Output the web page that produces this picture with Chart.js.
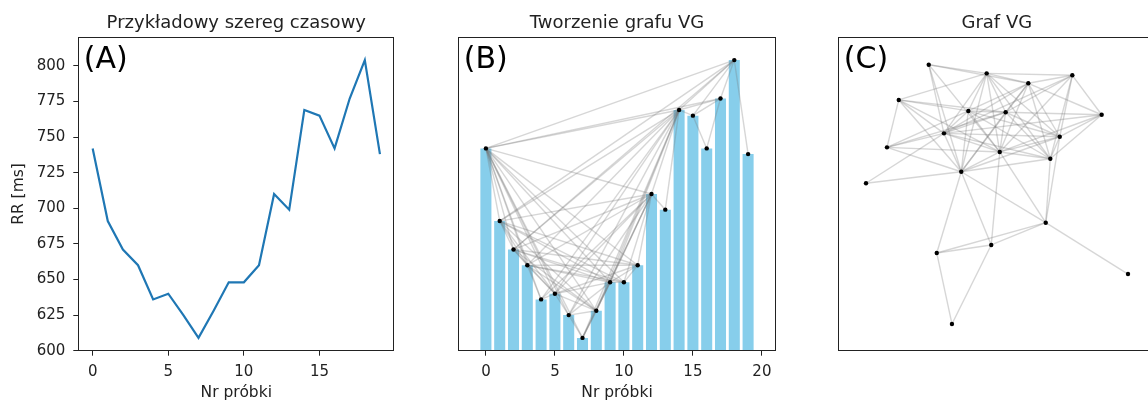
<!DOCTYPE html>
<html>
<head>
<meta charset="utf-8">
<title>Graf VG</title>
<script src="https://cdn.jsdelivr.net/npm/chart.js@4.4.1/dist/chart.umd.min.js"></script>
<style>
  html, body { margin: 0; padding: 0; background: #fff; overflow: hidden; }
  #wrap { position: relative; width: 1148px; height: 403px; overflow: hidden; }
  canvas { position: absolute; top: 0; }
  #chartA { left: 0; }
  #chartB { left: 420px; }
  #chartC { left: 820px; }
</style>
</head>
<body>
<div id="wrap">
  <canvas id="chartA" width="400" height="403"></canvas>
  <canvas id="chartB" width="380" height="403"></canvas>
  <canvas id="chartC" width="360" height="403"></canvas>
</div>
<script>
// RR intervals [ms], one per sample
const sampleNo = [0, 1, 2, 3, 4, 5, 6, 7, 8, 9, 10, 11, 12, 13, 14, 15, 16, 17, 18, 19];
const rrValues = [742, 691, 671, 660, 636, 640, 625, 609, 628, 648, 648, 660, 710, 699, 769, 765, 742, 777, 804, 738];

const rrTicks = [600, 625, 650, 675, 700, 725, 750, 775, 800];
const sampleTicksA = [0, 5, 10, 15];
const sampleTicksB = [0, 5, 10, 15, 20];

// spring-layout positions of the graph nodes (node i = sample i)
const layoutX = [0.021, 0.407, 0.479, 0.239, -0.521, -0.079, -0.750, -0.840, -0.219, 0.066,
                 0.799, 0.575, -0.405, -1.000, -0.273, -0.460, -0.344, -0.044, 0.372, 1.000];
const layoutY = [0.321, 0.269, 0.437, 0.845, 0.987, 0.921, 0.718, 0.356, 0.634, 0.624,
                 0.605, 0.906, 0.463, 0.082, 0.170, -0.450, -0.992, -0.389, -0.219, -0.611];

const TEXT = '#222';
const EDGE = 'rgba(120, 120, 120, 0.3)';
const FONT = "'DejaVu Sans', sans-serif";

Chart.defaults.font.family = FONT;
Chart.defaults.font.size = 15;
Chart.defaults.color = TEXT;

// natural visibility graph: a and b are linked if every sample between them
// lies strictly below the straight line joining them
function visibilityEdges(vals) {
  const edges = [];
  for (let a = 0; a < vals.length; a++) {
    for (let b = a + 1; b < vals.length; b++) {
      let visible = true;
      for (let c = a + 1; c < b; c++) {
        const h = vals[b] + (vals[a] - vals[b]) * (b - c) / (b - a);
        if (vals[c] >= h) { visible = false; break; }
      }
      if (visible) edges.push([a, b]);
    }
  }
  return edges;
}

const edges = visibilityEdges(rrValues);

// title above the axes, panel letter in the corner, and the axes frame
const panelText = {
  id: 'panelText',
  afterDraw(chart, args, opts) {
    const { ctx, chartArea: a } = chart;
    ctx.save();
    ctx.strokeStyle = TEXT;
    ctx.lineWidth = 1;
    const l = Math.round(a.left) + 0.5, t = Math.round(a.top) + 0.5;
    const r = Math.round(a.right) - 0.5, b = Math.round(a.bottom) - 0.5;
    ctx.strokeRect(l, t, r - l, b - t);
    ctx.fillStyle = TEXT;
    ctx.font = '18px ' + FONT;
    ctx.textAlign = 'center';
    ctx.textBaseline = 'alphabetic';
    ctx.fillText(opts.title, (a.left + a.right) / 2, 28);
    ctx.fillStyle = '#000';
    ctx.font = '30px ' + FONT;
    ctx.textAlign = 'left';
    ctx.fillText(opts.letter, a.left + 5.5, a.top + 30.4);
    ctx.restore();
  }
};

const tickGrid = { drawOnChartArea: false, drawTicks: true, tickLength: 5, color: TEXT };
const xTitle = { display: true, text: 'Nr próbki', font: { size: 15.5 }, padding: { top: 0, bottom: 0.8 } };

function fixedTicks(values) {
  return scale => { scale.ticks = values.map(v => ({ value: v })); };
}

function edgeDatasets(xs, ys) {
  return edges.map(([a, b]) => ({
    type: 'line',
    data: [{ x: xs[a], y: ys[a] }, { x: xs[b], y: ys[b] }],
    borderColor: EDGE,
    borderWidth: 1.4,
    pointRadius: 0,
    fill: false,
    order: 2
  }));
}

const baseOptions = {
  responsive: false,
  animation: false,
  events: [],
  plugins: { legend: { display: false }, tooltip: { enabled: false } }
};

// (A) time series
new Chart(document.getElementById('chartA'), {
  type: 'line',
  data: {
    datasets: [{
      data: sampleNo.map((x, i) => ({ x: x, y: rrValues[i] })),
      borderColor: '#1f77b4',
      borderWidth: 2.2,
      pointRadius: 0,
      tension: 0
    }]
  },
  options: {
    ...baseOptions,
    layout: { padding: { top: 37.3, right: 5.7, bottom: 0, left: 0 } },
    plugins: { ...baseOptions.plugins, panelText: { title: 'Przykładowy szereg czasowy', letter: '(A)' } },
    scales: {
      x: {
        type: 'linear', min: -0.95, max: 19.95,
        afterBuildTicks: fixedTicks(sampleTicksA),
        afterFit: s => { s.height = 52.3; },
        grid: tickGrid,
        border: { display: false },
        ticks: { padding: 7, maxRotation: 0 },
        title: xTitle
      },
      y: {
        min: 600, max: 820,
        afterBuildTicks: fixedTicks(rrTicks),
        afterFit: s => { s.width = 78.3; },
        grid: tickGrid,
        border: { display: false },
        ticks: { padding: 8 },
        title: { display: true, text: 'RR [ms]', font: { size: 15.5 }, padding: { top: 10, bottom: 0 } }
      }
    }
  },
  plugins: [panelText]
});

// (B) bars with visibility lines between their tops
new Chart(document.getElementById('chartB'), {
  type: 'bar',
  data: {
    datasets: [
      {
        type: 'bar',
        data: sampleNo.map((x, i) => ({ x: x, y: rrValues[i] })),
        backgroundColor: '#87ceeb',
        barPercentage: 0.8,
        categoryPercentage: 1,
        order: 3
      },
      ...edgeDatasets(sampleNo, rrValues),
      {
        type: 'scatter',
        data: sampleNo.map((x, i) => ({ x: x, y: rrValues[i] })),
        pointRadius: 2.2,
        backgroundColor: '#000',
        borderWidth: 0,
        order: 1
      }
    ]
  },
  options: {
    ...baseOptions,
    layout: { padding: { top: 37.3, right: 24.3, bottom: 0, left: 38.3 } },
    plugins: { ...baseOptions.plugins, panelText: { title: 'Tworzenie grafu VG', letter: '(B)' } },
    scales: {
      x: {
        type: 'linear', min: -2, max: 21, offset: false,
        afterBuildTicks: fixedTicks(sampleTicksB),
        afterFit: s => { s.height = 52.3; },
        grid: { ...tickGrid, offset: false },
        border: { display: false },
        ticks: { padding: 7, maxRotation: 0 },
        title: xTitle
      },
      y: { min: 600, max: 820, display: false }
    }
  },
  plugins: [panelText]
});

// (C) the resulting graph
new Chart(document.getElementById('chartC'), {
  type: 'scatter',
  data: {
    datasets: [
      ...edgeDatasets(layoutX, layoutY),
      {
        type: 'scatter',
        data: layoutX.map((x, i) => ({ x: x, y: layoutY[i] })),
        pointRadius: 2.2,
        backgroundColor: '#000',
        borderWidth: 0,
        order: 1
      }
    ]
  },
  options: {
    ...baseOptions,
    layout: { padding: { top: 37.3, right: 24.7, bottom: 52.3, left: 18.3 } },
    plugins: { ...baseOptions.plugins, panelText: { title: 'Graf VG', letter: '(C)' } },
    scales: {
      x: { type: 'linear', min: -1.2115, max: 1.2084, display: false },
      y: { type: 'linear', min: -1.196, max: 1.196, display: false }
    }
  },
  plugins: [panelText]
});
</script>
</body>
</html>
